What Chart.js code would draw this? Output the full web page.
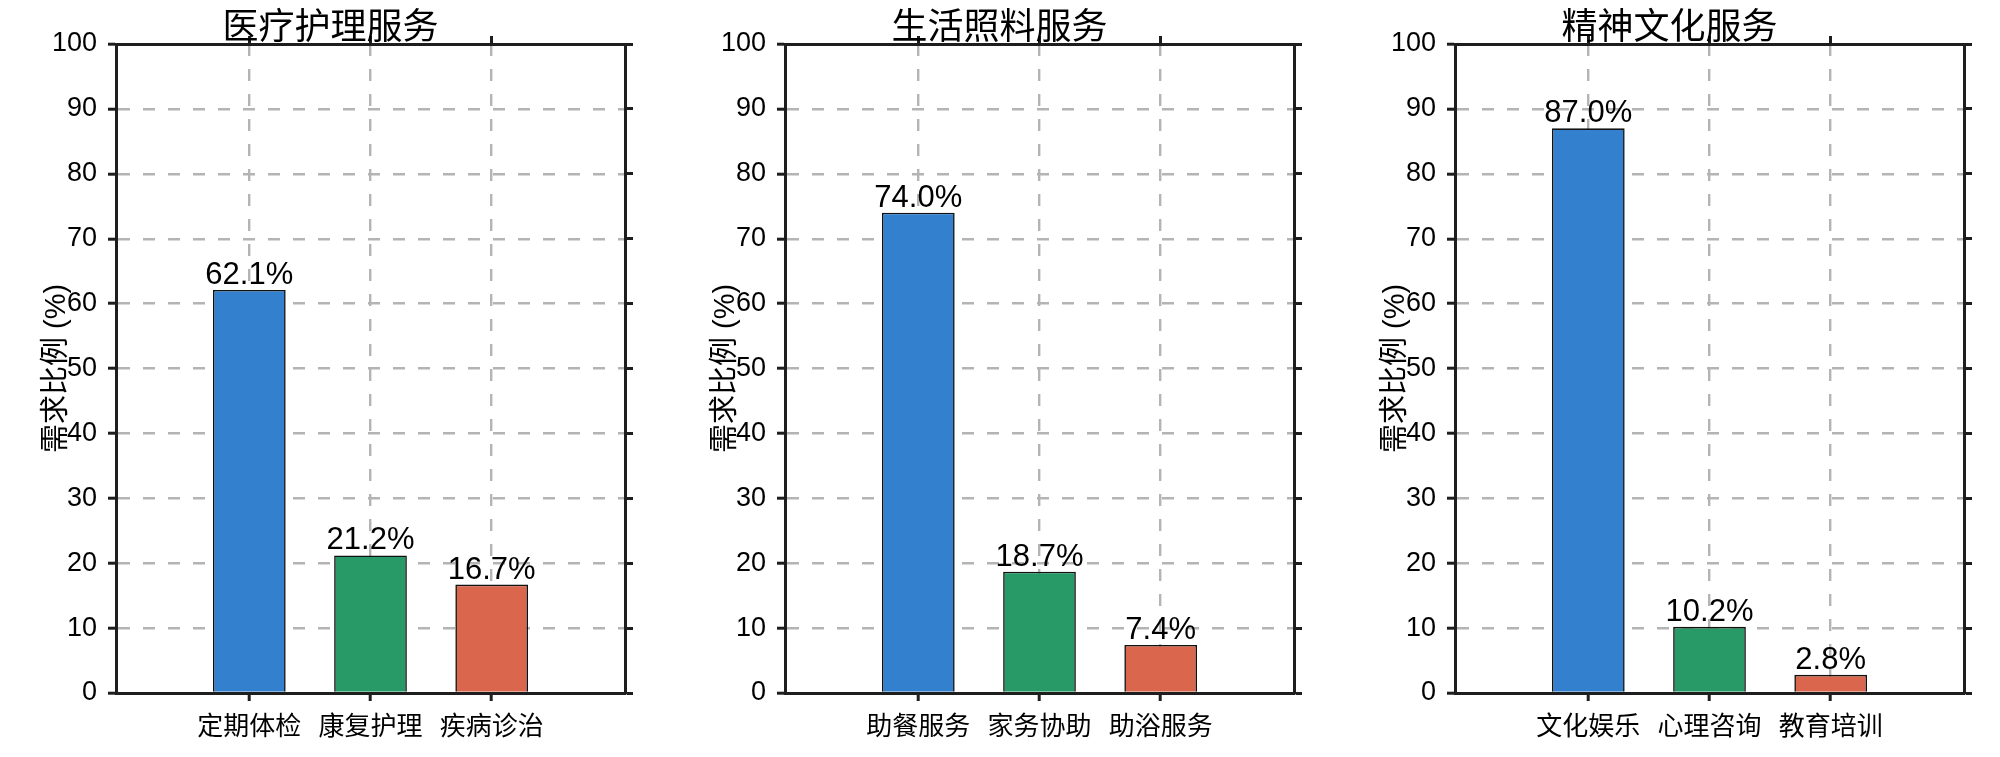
<!DOCTYPE html>
<html>
<head>
<meta charset="utf-8">
<script src="https://cdn.jsdelivr.net/npm/chart.js@4.4.1/dist/chart.umd.min.js"></script>
<style>
  html, body { margin: 0; padding: 0; background: #fff; overflow: hidden; }
  #wrap { position: relative; width: 2000px; height: 757px; }
  .panel { position: absolute; top: 0; }
</style>
</head>
<body>
<div id="wrap">
  <canvas class="panel" id="chart-med" width="661" height="757" style="left:0px"></canvas>
  <canvas class="panel" id="chart-life" width="661" height="757" style="left:669px"></canvas>
  <canvas class="panel" id="chart-culture" width="661" height="757" style="left:1339px"></canvas>
</div>
<script>
// chart data
const panelTitles = ['医疗护理服务', '生活照料服务', '精神文化服务'];
const medCategories = ['定期体检', '康复护理', '疾病诊治'];
const medValues = [62.1, 21.2, 16.7];
const lifeCategories = ['助餐服务', '家务协助', '助浴服务'];
const lifeValues = [74.0, 18.7, 7.4];
const cultureCategories = ['文化娱乐', '心理咨询', '教育培训'];
const cultureValues = [87.0, 10.2, 2.8];
const yAxisLabel = '需求比例 (%)';
const yMin = 0, yMax = 100, yStep = 10;
const barColors = ['#3380CF', '#289A68', '#DB664E'];

const fontFamily = "'Liberation Sans', Arial, 'Noto Sans CJK SC', sans-serif";
const axisColor = '#1e1e1e';
const gridColor = '#b4b4b4';

// value labels above each bar
const valueLabels = {
  id: 'valueLabels',
  afterDatasetsDraw(chart) {
    const ctx = chart.ctx;
    const meta = chart.getDatasetMeta(0);
    ctx.save();
    ctx.font = '31px ' + fontFamily;
    ctx.fillStyle = '#000';
    ctx.textAlign = 'center';
    ctx.textBaseline = 'alphabetic';
    meta.data.forEach((bar, i) => {
      const v = chart.data.datasets[0].data[i].y;
      ctx.fillText(v.toFixed(1) + '%', bar.x, bar.y - 6);
    });
    ctx.restore();
  }
};

function makePanel(canvasId, title, categories, values) {
  const catTicks = (scale) => { scale.ticks = categories.map((c, i) => ({ value: i })); };
  const mirror = {
    display: true,
    offset: false,
    drawOnChartArea: false,
    drawTicks: true,
    tickLength: 8,
    tickWidth: 3,
    tickColor: axisColor,
    color: 'rgba(0,0,0,0)'
  };
  const dashedGrid = {
    display: true,
    offset: false,
    color: gridColor,
    lineWidth: 2.4,
    drawTicks: true,
    tickLength: 8,
    tickWidth: 3,
    tickColor: axisColor,
    tickBorderDash: []
  };
  const solidBorder = { display: true, color: axisColor, width: 3 };
  const dashedBorder = { display: true, color: axisColor, width: 3, dash: [12, 13] };

  return new Chart(document.getElementById(canvasId), {
    type: 'bar',
    data: {
      datasets: [{
        data: values.map((v, i) => ({ x: i, y: v })),
        backgroundColor: barColors,
        borderColor: '#111111',
        borderWidth: 1.6,
        categoryPercentage: 1.0,
        barPercentage: 0.6
      }]
    },
    options: {
      responsive: false,
      animation: false,
      layout: { padding: 0 },
      plugins: {
        legend: { display: false },
        tooltip: { enabled: false },
        title: {
          display: true,
          text: title,
          color: '#000',
          font: { family: fontFamily, size: 36, weight: 'normal', lineHeight: 1.0 },
          padding: { top: 11, bottom: -3 }
        }
      },
      scales: {
        x: {
          type: 'linear',
          position: 'bottom',
          offset: false,
          min: -1.1,
          max: 3.1,
          afterBuildTicks: catTicks,
          afterFit: (s) => { s.height = 64; },
          ticks: {
            autoSkip: false,
            maxRotation: 0,
            padding: 11,
            color: '#000',
            font: { family: fontFamily, size: 26 },
            callback: (v) => categories[v]
          },
          grid: dashedGrid,
          border: dashedBorder
        },
        x2: {
          type: 'linear',
          position: 'top',
          offset: false,
          min: -1.1,
          max: 3.1,
          afterBuildTicks: catTicks,
          afterFit: (s) => { s.height = 0; },
          ticks: { display: false },
          grid: mirror,
          border: solidBorder
        },
        y: {
          type: 'linear',
          position: 'left',
          min: yMin,
          max: yMax,
          afterFit: (s) => { s.width = 116; },
          ticks: {
            stepSize: yStep,
            padding: 11,
            color: '#000',
            font: { family: fontFamily, size: 27 }
          },
          title: {
            display: true,
            text: yAxisLabel,
            color: '#000',
            font: { family: fontFamily, size: 29 },
            padding: { top: 40, bottom: 0 }
          },
          grid: dashedGrid,
          border: dashedBorder
        },
        y2: {
          type: 'linear',
          position: 'right',
          min: yMin,
          max: yMax,
          afterFit: (s) => { s.width = 36; },
          ticks: { display: false, stepSize: yStep },
          grid: mirror,
          border: solidBorder
        }
      }
    },
    plugins: [valueLabels]
  });
}

makePanel('chart-med', panelTitles[0], medCategories, medValues);
makePanel('chart-life', panelTitles[1], lifeCategories, lifeValues);
makePanel('chart-culture', panelTitles[2], cultureCategories, cultureValues);
</script>
</body>
</html>
